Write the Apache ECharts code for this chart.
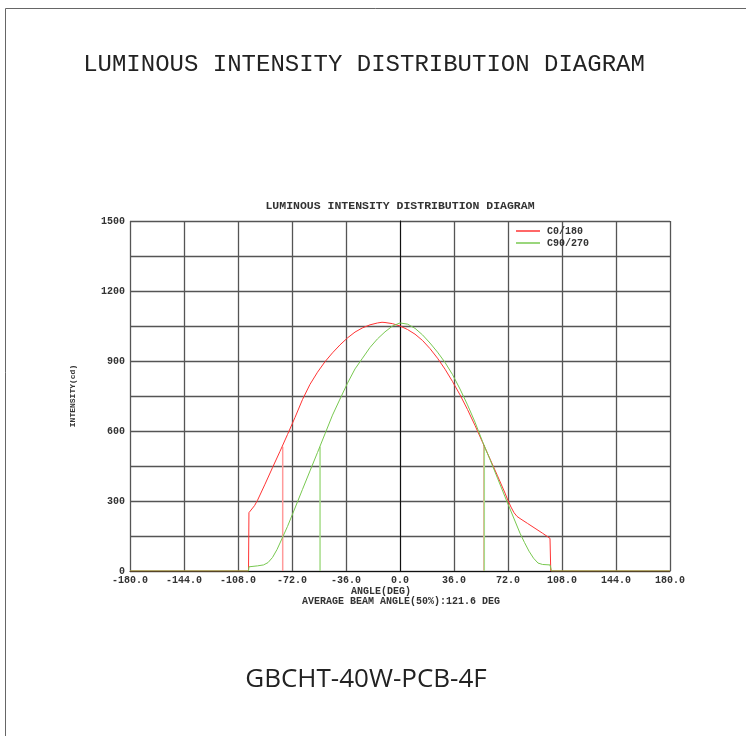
<!DOCTYPE html>
<html>
<head>
<meta charset="utf-8">
<script src="https://cdn.jsdelivr.net/npm/echarts@6/dist/echarts.min.js"></script>
<style>
html,body{margin:0;padding:0;background:#fff;}
#c{width:746px;height:736px;}
</style>
</head>
<body>
<div id="c"></div>
<script>
// ---- data ----
const seriesNames = ['C0/180', 'C90/270'];
const xTickLabels = [-180, -144, -108, -72, -36, 0, 36, 72, 108, 144, 180];
const yTickLabels = [0, 300, 600, 900, 1200, 1500];

const redAngles = [-180, -101, -100.7, -97, -95, -90, -85, -80, -75, -70, -65, -60, -55, -50, -45, -40, -35, -30, -25, -20, -15, -12, -10, -5, 0, 5, 10, 15, 20, 25, 30, 35, 40, 45, 50, 55, 60, 65, 70, 72, 74, 76, 78, 80, 85, 90, 95, 100, 100.5, 180];
const redValues = [0, 0, 250, 280, 303, 372, 443, 513, 585, 658, 735, 800, 852, 897, 935, 969, 999, 1024, 1042, 1055, 1063, 1066, 1065, 1060, 1050, 1035, 1015, 988, 953, 912, 865, 812, 755, 692, 624, 552, 480, 408, 334, 302, 274, 250, 234, 225, 204, 183, 162, 140, 0, 0];

const greenAngles = [-180, -101, -100.7, -95, -91, -88, -85, -82, -80, -75, -70, -65, -60, -55, -50, -45, -40, -35, -30, -25, -20, -15, -10, -5, 0, 1, 5, 10, 15, 20, 25, 30, 35, 40, 45, 50, 55, 60, 65, 70, 75, 80, 83, 86, 89, 92, 95, 100, 101, 180];
const greenValues = [0, 0, 18, 22, 26, 36, 58, 92, 120, 191, 270, 350, 429, 508, 588, 668, 737, 805, 866, 912, 958, 995, 1025, 1050, 1063, 1064, 1058, 1040, 1012, 977, 938, 894, 842, 780, 712, 638, 555, 478, 398, 318, 240, 162, 122, 85, 55, 34, 28, 26, 0, 0];

// 50% beam angle markers (angle, value at curve)
const redBeamAngles = [-78.2, 55.9];
const redBeamValues = [533, 540];
const greenBeamAngles = [-53.3, 56.2];
const greenBeamValues = [533, 540];

const RED = '#ff3434';
const GREEN = '#78c850';
const RED_LIGHT = '#ff9a9a';
const GREEN_LIGHT = '#a6dc8a';

function pairs(a, v) { return a.map((x, i) => [x, v[i]]); }
function markerSegments(a, v) {
  const out = [];
  a.forEach((x, i) => { out.push([x, 0]); out.push([x, v[i]]); out.push([x, null]); });
  return out;
}

const chart = echarts.init(document.getElementById('c'), null, {renderer: 'canvas'});
const mono = '"Liberation Mono", "DejaVu Sans Mono", monospace';

chart.setOption({
  animation: false,
  backgroundColor: '#fff',
  title: [{
    text: 'LUMINOUS INTENSITY DISTRIBUTION DIAGRAM',
    left: 364, top: 65, textAlign: 'center', textVerticalAlign: 'middle', padding: 0,
    textStyle: {fontFamily: mono, fontSize: 24, fontWeight: 'normal', color: '#222'}
  }, {
    text: 'LUMINOUS INTENSITY DISTRIBUTION DIAGRAM',
    left: 400, top: 206, textAlign: 'center', textVerticalAlign: 'middle', padding: 0,
    textStyle: {fontFamily: mono, fontSize: 11.5, fontWeight: 'bold', color: '#333'}
  }],
  legend: {
    orient: 'vertical', left: 516, top: 226, padding: 0,
    icon: 'rect', itemWidth: 24, itemHeight: 1.5, itemGap: 2,
    data: seriesNames,
    textStyle: {fontFamily: mono, fontSize: 10, fontWeight: 'bold', color: '#333', lineHeight: 10, padding: [0, 0, 0, 2]}
  },
  grid: {left: 130, right: 76, top: 221, bottom: 165, containLabel: false},
  xAxis: {
    type: 'value', min: xTickLabels[0], max: xTickLabels[xTickLabels.length - 1], interval: 36,
    axisLine: {show: true, lineStyle: {color: '#111', width: 1}},
    axisTick: {show: false},
    axisLabel: {
      margin: 4, fontFamily: mono, fontSize: 10, fontWeight: 'bold', color: '#333',
      formatter: v => xTickLabels.indexOf(v) >= 0 ? v.toFixed(1) : ''
    },
    splitLine: {show: true, lineStyle: {color: '#555', width: 1.3}}
  },
  yAxis: {
    type: 'value', min: 0, max: 1500, interval: 150,
    name: 'INTENSITY(cd)', nameLocation: 'middle', nameGap: 53, nameRotate: 90,
    nameTextStyle: {fontFamily: mono, fontSize: 8, fontWeight: 'bold', color: '#333'},
    axisLine: {show: true, lineStyle: {color: '#111', width: 1}},
    axisTick: {show: false},
    axisLabel: {
      margin: 5, fontFamily: mono, fontSize: 10, fontWeight: 'bold', color: '#333',
      formatter: v => yTickLabels.indexOf(v) >= 0 ? String(v) : ''
    },
    splitLine: {show: true, lineStyle: {color: '#555', width: 1.3}}
  },
  graphic: [
    {type: 'line', shape: {x1: 5.5, y1: 8.5, x2: 746, y2: 8.5}, style: {stroke: '#666', lineWidth: 1}},
    {type: 'line', shape: {x1: 5.5, y1: 8.5, x2: 5.5, y2: 736}, style: {stroke: '#666', lineWidth: 1}},
    {type: 'text', x: 381, y: 591, style: {text: 'ANGLE(DEG)', font: 'bold 10px ' + mono, fill: '#333', textAlign: 'center', textVerticalAlign: 'middle'}},
    {type: 'text', x: 401, y: 601, style: {text: 'AVERAGE BEAM ANGLE(50%):121.6 DEG', font: 'bold 10px ' + mono, fill: '#333', textAlign: 'center', textVerticalAlign: 'middle'}},
    {type: 'text', x: 366, y: 680, style: {text: 'GBCHT-40W-PCB-4F', font: '26px "Open Sans", "Noto Sans", sans-serif', fill: '#222', textAlign: 'center', textVerticalAlign: 'middle'}}
  ],
  series: [
    {name: 'beamRed', type: 'line', data: markerSegments(redBeamAngles, redBeamValues), symbol: 'none', connectNulls: false,
     lineStyle: {color: RED_LIGHT, width: 1.5}, silent: true, z: 2},
    {name: 'beamGreen', type: 'line', data: markerSegments(greenBeamAngles, greenBeamValues), symbol: 'none', connectNulls: false,
     lineStyle: {color: GREEN_LIGHT, width: 1.5}, silent: true, z: 2},
    {name: seriesNames[0], type: 'line', data: pairs(redAngles, redValues), symbol: 'none', color: RED,
     lineStyle: {color: RED, width: 1}, z: 3},
    {name: seriesNames[1], type: 'line', data: pairs(greenAngles, greenValues), symbol: 'none', color: GREEN,
     lineStyle: {color: GREEN, width: 1}, z: 3}
  ]
});
</script>
</body>
</html>
